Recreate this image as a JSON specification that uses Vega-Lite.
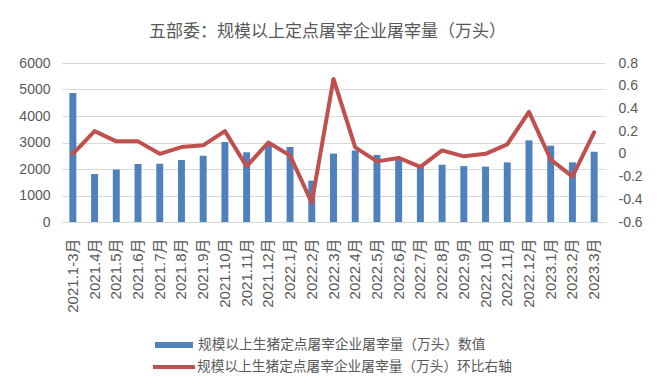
{
  "$schema": "https://vega.github.io/schema/vega-lite/v6.json",
  "width": 543,
  "height": 159,
  "autosize": {"type": "none"},
  "padding": {"left": 62, "top": 63, "right": 55, "bottom": 170},
  "background": "white",
  "title": {
    "text": "五部委：规模以上定点屠宰企业屠宰量（万头）",
    "font": "Noto Sans CJK SC",
    "fontSize": 17,
    "fontWeight": "normal",
    "color": "#595959",
    "anchor": "middle",
    "frame": "group",
    "baseline": "bottom",
    "offset": -2,
    "dx": -6
  },
  "config": {
    "view": {"stroke": null},
    "axis": {"labelColor": "#595959", "labelFont": "Liberation Sans, Noto Sans CJK SC", "labelFontSize": 14},
    "legend": {"labelFont": "Noto Sans CJK SC", "labelFontSize": 13.7, "labelColor": "#595959", "padding": 0, "labelOffset": 5, "labelLimit": 0}
  },
  "data": {
    "values": [
      {"month": "2021.1-3月", "value": 4870, "ratio": 0.0},
      {"month": "2021.4月", "value": 1810, "ratio": 0.2},
      {"month": "2021.5月", "value": 1980, "ratio": 0.11},
      {"month": "2021.6月", "value": 2190, "ratio": 0.11},
      {"month": "2021.7月", "value": 2200, "ratio": 0.0},
      {"month": "2021.8月", "value": 2340, "ratio": 0.06},
      {"month": "2021.9月", "value": 2500, "ratio": 0.075},
      {"month": "2021.10月", "value": 3020, "ratio": 0.2},
      {"month": "2021.11月", "value": 2630, "ratio": -0.11},
      {"month": "2021.12月", "value": 2920, "ratio": 0.1},
      {"month": "2022.1月", "value": 2830, "ratio": -0.015},
      {"month": "2022.2月", "value": 1560, "ratio": -0.43},
      {"month": "2022.3月", "value": 2580, "ratio": 0.66},
      {"month": "2022.4月", "value": 2700, "ratio": 0.057},
      {"month": "2022.5月", "value": 2530, "ratio": -0.066},
      {"month": "2022.6月", "value": 2340, "ratio": -0.036},
      {"month": "2022.7月", "value": 2080, "ratio": -0.115},
      {"month": "2022.8月", "value": 2160, "ratio": 0.031},
      {"month": "2022.9月", "value": 2110, "ratio": -0.022},
      {"month": "2022.10月", "value": 2090, "ratio": 0.0},
      {"month": "2022.11月", "value": 2250, "ratio": 0.084},
      {"month": "2022.12月", "value": 3080, "ratio": 0.37},
      {"month": "2023.1月", "value": 2880, "ratio": -0.05},
      {"month": "2023.2月", "value": 2250, "ratio": -0.2},
      {"month": "2023.3月", "value": 2650, "ratio": 0.19}
    ]
  },
  "encoding": {
    "x": {
      "field": "month",
      "type": "nominal",
      "sort": null,
      "scale": {"paddingInner": 0.68, "paddingOuter": 0.34},
      "axis": {
        "title": null,
        "labelAngle": -90,
        "labelFontSize": 15,
        "labelPadding": 16,
        "ticks": false,
        "domain": true,
        "domainColor": "#d9d9d9",
        "grid": false
      }
    }
  },
  "layer": [
    {
      "mark": {"type": "bar"},
      "encoding": {
        "y": {
          "field": "value",
          "type": "quantitative",
          "scale": {"domain": [0, 6000], "nice": false},
          "axis": {
            "title": null,
            "orient": "left",
            "values": [0, 1000, 2000, 3000, 4000, 5000, 6000],
            "format": "d",
            "domain": false,
            "ticks": false,
            "grid": true,
            "gridColor": "#d9d9d9",
            "labelPadding": 12
          }
        },
        "fill": {
          "datum": "规模以上生猪定点屠宰企业屠宰量（万头）数值",
          "scale": {"range": ["#4F81BD"]},
          "legend": {
            "title": null,
            "orient": "none",
            "legendX": 93,
            "legendY": 263,
            "symbolType": "M-1,-0.16H1V0.16H-1Z",
            "symbolSize": 1444,
            "symbolStrokeWidth": 0
          }
        }
      }
    },
    {
      "mark": {"type": "line", "strokeWidth": 4, "strokeJoin": "round", "strokeCap": "round"},
      "encoding": {
        "y": {
          "field": "ratio",
          "type": "quantitative",
          "scale": {"domain": [-0.6, 0.8], "nice": false, "zero": false},
          "axis": {
            "title": null,
            "orient": "right",
            "values": [-0.6, -0.4, -0.2, 0, 0.2, 0.4, 0.6, 0.8],
            "labelExpr": "replace(format(datum.value, '~g'), '−', '-')",
            "domain": false,
            "ticks": false,
            "grid": false,
            "labelPadding": 13
          }
        },
        "stroke": {
          "datum": "规模以上生猪定点屠宰企业屠宰量（万头）环比右轴",
          "scale": {"range": ["#C0504D"]},
          "legend": {
            "title": null,
            "orient": "none",
            "legendX": 89,
            "legendY": 281,
            "labelOffset": 0,
            "symbolType": "stroke",
            "symbolSize": 1764,
            "symbolStrokeWidth": 4
          }
        }
      }
    }
  ],
  "resolve": {"scale": {"y": "independent"}}
}
